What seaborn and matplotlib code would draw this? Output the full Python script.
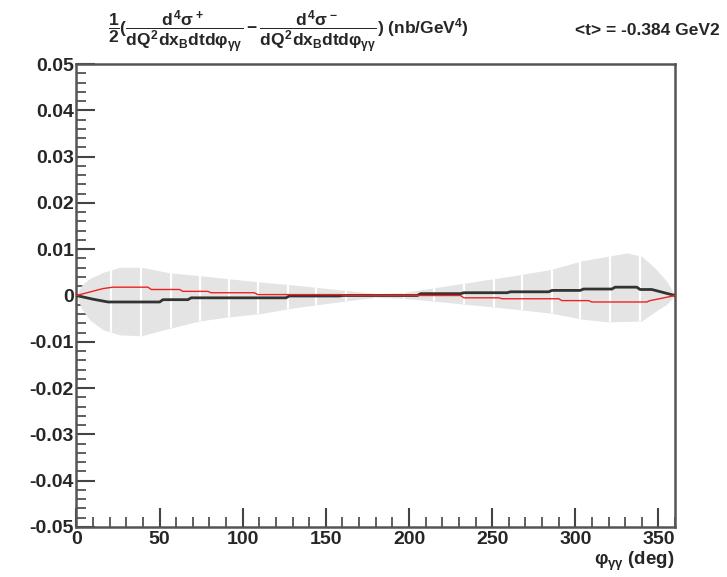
import numpy as np
import pandas as pd
import matplotlib
matplotlib.use("Agg")
import matplotlib.pyplot as plt
import seaborn as sns

# ---------------- data ----------------
phi_black = [0, 10, 19, 50, 52, 67, 69, 126, 128, 158, 160, 205, 207, 231, 233,
             259, 261, 284, 286, 303, 305, 322, 324, 337, 339, 346, 360]
val_black = [0, -0.0008, -0.0014, -0.0014, -0.0009, -0.0009, -0.0005, -0.0005,
             -0.0001, -0.0001, 0.0, 0.0, 0.0004, 0.0004, 0.0006, 0.0006, 0.0008,
             0.0008, 0.0011, 0.0011, 0.0014, 0.0014, 0.0018, 0.0018, 0.0013,
             0.0013, 0.0]

phi_red = [0, 16, 22, 43, 45, 62, 64, 79, 81, 107, 109, 159, 161, 231, 233, 254,
           256, 290, 292, 308, 310, 343, 345, 352, 360]
val_red = [0, 0.0015, 0.0018, 0.0018, 0.0013, 0.0013, 0.0009, 0.0009, 0.0006,
           0.0006, 0.0002, 0.0002, 0.0, 0.0, -0.0005, -0.0005, -0.0007, -0.0007,
           -0.0011, -0.0011, -0.0014, -0.0014, -0.0011, -0.0006, 0.0]

phi_band = [0, 3, 8, 16, 26, 39, 56, 74, 92, 111, 130, 151, 170, 181, 195, 203,
            223, 243, 265, 285, 304, 320, 331, 340, 348, 355, 360]
band_low = [0, -0.0028, -0.0053, -0.0074, -0.0085, -0.0087, -0.0071, -0.0055,
            -0.0046, -0.0039, -0.0027, -0.0017, -0.0008, -0.0004, -0.0006,
            -0.0008, -0.0015, -0.0022, -0.0030, -0.0038, -0.0051, -0.0057,
            -0.0056, -0.0055, -0.0035, -0.0019, 0]
band_high = [0, 0.0022, 0.0037, 0.0050, 0.0061, 0.0061, 0.0049, 0.0043, 0.0036,
             0.0029, 0.0023, 0.0015, 0.0008, 0.0004, 0.0006, 0.0010, 0.0021,
             0.0032, 0.0044, 0.0056, 0.0075, 0.0085, 0.0092, 0.0085, 0.0059,
             0.0031, 0]

band_gaps = [21, 39, 57, 74, 92, 109, 127, 144, 162, 180, 197, 215, 233, 251,
             268, 286, 303, 321, 339]

x_ticks = [0, 50, 100, 150, 200, 250, 300, 350]
y_ticks = [-0.05, -0.04, -0.03, -0.02, -0.01, 0, 0.01, 0.02, 0.03, 0.04, 0.05]
y_ticklabels = ["-0.05", "-0.04", "-0.03", "-0.02", "-0.01", "0",
                "0.01", "0.02", "0.03", "0.04", "0.05"]

# ---------------- style ----------------
sns.set_theme(style="ticks")
plt.rcParams["font.family"] = ["Liberation Sans", "DejaVu Sans"]
plt.rcParams["font.weight"] = "bold"
plt.rcParams["mathtext.fontset"] = "custom"
plt.rcParams["mathtext.rm"] = "Liberation Sans:bold"
plt.rcParams["mathtext.it"] = "Liberation Sans:bold"
plt.rcParams["mathtext.bf"] = "Liberation Sans:bold"
plt.rcParams["mathtext.sf"] = "Liberation Sans:bold"

fig = plt.figure(figsize=(7.27, 5.77), dpi=100)
ax = fig.add_axes([0.1052, 0.0867, 0.8233, 0.8023])

# band
poly = ax.fill_between(phi_band, band_low, band_high, color="#e4e4e4", lw=0, zorder=1)
clip_path = poly.get_paths()[0]
for g in band_gaps:
    ln = ax.axvline(g, color="white", lw=1.6, zorder=1.5)
    ln.set_clip_path(clip_path, ax.transData)

df_b = pd.DataFrame({"phi": phi_black, "val": val_black})
df_r = pd.DataFrame({"phi": phi_red, "val": val_red})
sns.lineplot(data=df_b, x="phi", y="val", ax=ax, color="#333333", lw=2.0,
             estimator=None, sort=False, zorder=3)
sns.lineplot(data=df_r, x="phi", y="val", ax=ax, color="#ee2222", lw=1.0,
             estimator=None, sort=False, zorder=4)

ax.set_xlim(0, 360)
ax.set_ylim(-0.05, 0.05)
ax.set_xticks(x_ticks)
ax.set_xticklabels([str(t) for t in x_ticks])
ax.set_yticks(y_ticks)
ax.set_yticklabels(y_ticklabels)
ax.set_xticks(np.arange(0, 361, 10), minor=True)
ax.set_yticks(np.linspace(-0.05, 0.05, 51), minor=True)
ax.tick_params(axis="both", which="major", direction="in", length=14, width=1.5,
               color="#444444", labelsize=14, pad=2)
ax.tick_params(axis="both", which="minor", direction="in", length=7, width=1.2,
               color="#444444")
ax.tick_params(axis="x", pad=3)
for lab in ax.get_xticklabels() + ax.get_yticklabels():
    lab.set_fontweight("bold")
for s in ax.spines.values():
    s.set_color("#555555")
    s.set_linewidth(1.8)
ax.set_xlabel("")
ax.set_ylabel("")

title = (r"$\dfrac{1}{2}(\dfrac{d^4\sigma^+}{dQ^2dx_Bdtd\varphi_{\gamma\gamma}}"
         r" - \dfrac{d^4\sigma^-}{dQ^2dx_Bdtd\varphi_{\gamma\gamma}})$ (nb/GeV$^4$)")
fig.text(0.148, 0.945, title, fontsize=12.5, fontweight="bold", ha="left", va="center")
fig.text(0.99, 0.947, "<t> = -0.384 GeV2", fontsize=12.5, fontweight="bold",
         ha="right", va="center")
fig.text(0.928, 0.027, r"$\varphi_{\gamma\gamma}$ (deg)", fontsize=13.5,
         fontweight="bold", ha="right", va="center")

fig.savefig("out.png", dpi=100, facecolor="white")
